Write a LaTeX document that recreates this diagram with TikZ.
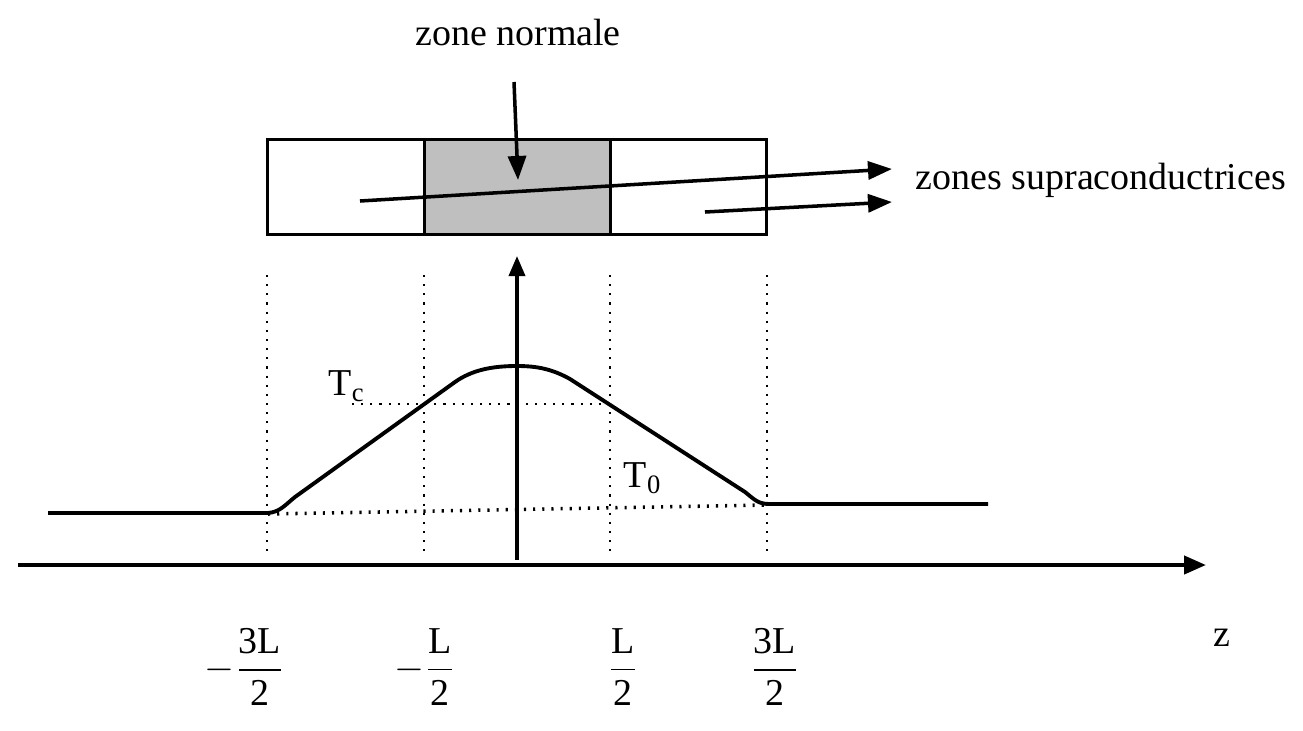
\documentclass[tikz,border=0pt]{standalone}
\usepackage{amsmath}
\usepackage{fontspec}
\setmainfont{Liberation Serif}
\usetikzlibrary{arrows.meta}
\tikzset{
  lbl/.style={font=\fontsize{10.8}{13}\selectfont, inner sep=0pt},
  zonebox/.style={draw, line width=0.8pt, minimum height=0.95cm, inner sep=0pt, anchor=north west},
  bigarrow/.style={line width=1pt, -{Triangle[length=0.24cm, width=0.18cm]}},
  axis/.style={line width=1.2pt, -{Triangle[length=0.22cm, width=0.18cm]}},
  guide/.style={line width=0.6pt, dotted},
  curve/.style={line width=1.1pt},
}
\begin{document}
\begin{tikzpicture}[x=0.01cm, y=-0.01cm]
\useasboundingbox (0,0) rectangle (1303,730);
% box of zones
\node[zonebox, minimum width=1.57cm] (zl) at (266,138) {};
\node[zonebox, minimum width=1.86cm, fill={rgb,255:red,191;green,191;blue,191}] (zm) at (423,138) {};
\node[zonebox, minimum width=1.56cm] (zr) at (609,138) {};
% labels
\node[lbl] (zn) at (518,33) {zone normale};
\node[lbl, anchor=west] (zs) at (915,180) {zones supraconductrices};
\coordinate (znA) at (514,82);
\coordinate (znB) at (518,180);
\draw[bigarrow] (znA) -- (znB);
\coordinate (s1A) at (360,201);
\coordinate (s1B) at (892,169);
\coordinate (s2A) at (705,212);
\coordinate (s2B) at (892,202);
\draw[bigarrow] (s1A) -- (s1B);
\draw[bigarrow] (s2A) -- (s2B);
% axes
\coordinate (xA) at (18,565);
\coordinate (xB) at (1206,565);
\coordinate (yA) at (517,560);
\coordinate (yB) at (517,256);
\draw[axis] (xA) -- (xB);
\draw[line width=1pt, -{Triangle[length=0.2cm, width=0.16cm]}] (yA) -- (yB);
% dotted guides
\foreach \xx/\nm in {267/g1, 424/g2, 610/g3, 767/g4} {
  \coordinate (\nm t) at (\xx,275);
  \coordinate (\nm b) at (\xx,557);
  \draw[guide] (\nm t) -- (\nm b);
}
\coordinate (tcA) at (352,404);
\coordinate (tcB) at (609,404);
\draw[guide] (tcA) -- (tcB);
\coordinate (t0A) at (268,514);
\coordinate (t0B) at (767,505);
\draw[guide, line width=1pt] (t0A) -- (t0B);
% temperature profile
\draw[curve] (48,513) -- (268,513)
  .. controls (280,512) and (285,505) .. (295,497)
  -- (455,382)
  .. controls (472,370) and (492,366) .. (517,366)
  .. controls (537,366) and (552,369) .. (570,379)
  -- (745,492)
  .. controls (755,500) and (758,504) .. (770,504)
  -- (988,504);
\node[lbl] (tc) at (347,386) {T\textsubscript{c}};
\node[lbl] (t0) at (643,478) {T\textsubscript{0}};
% tick labels
\node[lbl] (f1) at (245,667) {\(\displaystyle -\frac{\text{3L}}{\text{2}}\)};
\node[lbl] (f2) at (425,667) {\(\displaystyle -\frac{\text{L}}{\text{2}}\)};
\node[lbl] (f3) at (623,667) {\(\displaystyle \frac{\text{L}}{\text{2}}\)};
\node[lbl] (f4) at (775,667) {\(\displaystyle \frac{\text{3L}}{\text{2}}\)};
\node[lbl] (z) at (1222,638) {z};
\end{tikzpicture}
\end{document}
